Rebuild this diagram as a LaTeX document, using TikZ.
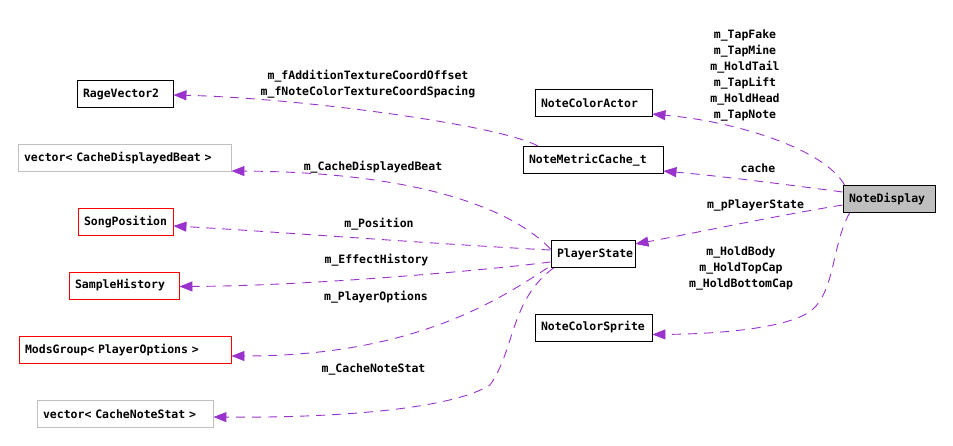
\documentclass[tikz,border=0pt]{standalone}
\usepackage{fontspec}
\setmonofont{DejaVu Sans Mono}
\usepackage{tikz}
\usetikzlibrary{positioning,arrows.meta}
\definecolor{edgecol}{RGB}{154,50,205}
\definecolor{boxgray}{RGB}{191,191,191}

\begin{document}
\begin{tikzpicture}[x=1pt,y=-1pt,
		cls/.style={draw=black, line width=0.9pt, minimum height=27pt, inner xsep=6pt, inner ysep=0pt, text width=#1, align=left, font=\ttfamily\bfseries\fontsize{11.5}{16}\selectfont},
		tmpl/.style={cls=#1, draw=boxgray},
		undoc/.style={cls=#1, draw=red},
		main/.style={cls=#1, fill=boxgray},
		rel/.style={draw=edgecol, line width=0.9pt, dash pattern=on 9pt off 7pt, -{Triangle[length=13pt,width=10pt,fill=edgecol]}},
		lab/.style={inner sep=0pt, align=center, font=\ttfamily\bfseries\fontsize{11.5}{16}\selectfont}]
		\useasboundingbox (0,0) rectangle (953,445);
		% classes
		\node [main=80pt] (nd) at (889,199) {NoteDisplay};
		\node [cls=105pt] (nca) at (593.5,103) {NoteColorActor};
		\node [cls=128pt] (nmc) at (593,160) {NoteMetricCache\_t};
		\node [cls=72pt] (ps) at (593,254) {PlayerState};
		\node [cls=105pt] (ncs) at (593.5,327.5) {NoteColorSprite};
		\node [cls=84pt] (rv) at (125,94) {RageVector2};
		\node [tmpl=201pt] (vcdb) at (124.5,158) {vector< CacheDisplayedBeat >};
		\node [undoc=83pt] (sp) at (125.5,222) {SongPosition};
		\node [undoc=98pt] (sh) at (124,285.5) {SampleHistory};
		\node [undoc=200pt] (mg) at (125,350) {ModsGroup< PlayerOptions >};
		\node [tmpl=164pt] (vcns) at (125,414) {vector< CacheNoteStat >};
		% members of NoteDisplay
		\draw [rel] ([xshift=2pt]nd.north west) .. controls (825,150) and (740,122) .. ([yshift=-11pt]nca.east);
		\draw [rel] ([yshift=7pt]nd.west) .. controls (790,185) and (720,176) .. ([yshift=-11pt]nmc.east);
		\draw [rel] ([yshift=-6pt]nd.west) .. controls (780,215) and (700,232) .. ([yshift=10pt]ps.east);
		\draw [rel] ([xshift=7pt]nd.south west) .. controls (832,245) and (835,290) .. (812,310) .. controls (790,328) and (720,334) .. ([yshift=-7pt]ncs.east);
		\node [lab] (l1) at (745,75) {m\_TapFake\\m\_TapMine\\m\_HoldTail\\m\_TapLift\\m\_HoldHead\\m\_TapNote};
		\node [lab] (l2) at (758,168) {cache};
		\node [lab] (l3) at (755.5,205.5) {m\_pPlayerState};
		\node [lab] (l4) at (741,268) {m\_HoldBody\\m\_HoldTopCap\\m\_HoldBottomCap};
		% members of NoteMetricCache_t
		\draw [rel] ([xshift=-55pt]nmc.north) .. controls (500,125) and (300,98) .. ([yshift=-1pt]rv.east);
		\node [lab] (l5) at (368,84) {m\_fAdditionTextureCoordOffset\\m\_fNoteColorTextureCoordSpacing};
		% members of PlayerState
		\draw [rel] ([yshift=5pt]ps.west) .. controls (505,202) and (400,172) .. ([yshift=-13pt]vcdb.east);
		\draw [rel] ([yshift=4pt]ps.west) .. controls (450,245) and (250,230) .. ([yshift=-4pt]sp.east);
		\draw [rel] ([yshift=-8pt]ps.west) .. controls (470,272) and (300,286) .. ([yshift=-1pt]sh.east);
		\draw [rel] ([xshift=-3pt]ps.south west) .. controls (505,295) and (420,356) .. ([yshift=-6pt]mg.east);
		\draw [rel] ([xshift=3pt]ps.south west) .. controls (510,300) and (515,350) .. (490,385) .. controls (450,410) and (330,418) .. ([yshift=-3pt]vcns.east);
		\node [lab] (l6) at (373,167) {m\_CacheDisplayedBeat};
		\node [lab] (l7) at (379,224) {m\_Position};
		\node [lab] (l8) at (376.5,260) {m\_EffectHistory};
		\node [lab] (l9) at (376,297) {m\_PlayerOptions};
		\node [lab] (l10) at (373.5,369) {m\_CacheNoteStat};
\end{tikzpicture}
\end{document}
